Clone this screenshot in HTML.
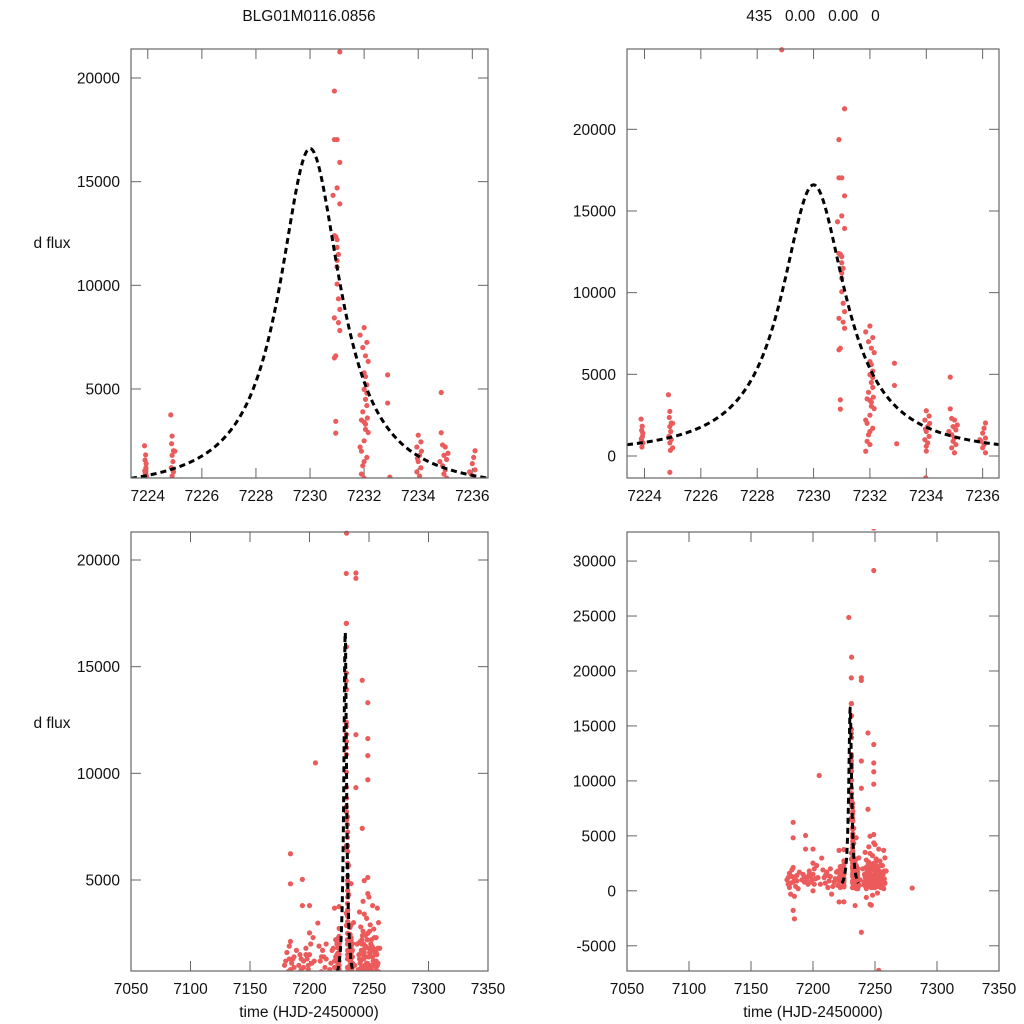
<!DOCTYPE html>
<html><head><meta charset="utf-8"><style>
html,body{margin:0;padding:0;background:#fff;overflow:hidden;width:1024px;height:1024px;}
svg{display:block;font-family:"Liberation Sans",Arial,sans-serif;}
</style></head><body>
<svg id="chart" width="1024" height="1024" viewBox="0 0 1024 1024">
<rect width="1024" height="1024" fill="#fff"/>
<text x="309" y="21" font-size="15.5" text-anchor="middle" fill="#111">BLG01M0116.0856</text>
<text x="813" y="21" font-size="15.5" text-anchor="middle" fill="#111" xml:space="preserve">435   0.00   0.00   0</text>
<text x="52" y="248" font-size="15.5" text-anchor="middle" fill="#111">d flux</text>
<text x="52" y="728" font-size="15.5" text-anchor="middle" fill="#111">d flux</text>
<text x="309" y="1017" font-size="15.5" text-anchor="middle" fill="#111">time (HJD-2450000)</text>
<text x="813" y="1017" font-size="15.5" text-anchor="middle" fill="#111">time (HJD-2450000)</text>
</svg>
<script>
// observed data (time, d flux)
const obsTime = [
7223.88,7223.92,7223.9,7223.93,7223.89,7223.95,7223.91,7223.94,7223.9,
7224.85,7224.9,7224.88,7224.95,7225.0,7224.9,7224.93,7224.87,7224.95,7224.9,7225.0,7224.92,7224.9,
7228.87,
7231.1,7230.9,7230.9,7231.0,7231.1,7231.0,7230.85,7231.1,7230.9,7230.95,7231.0,7231.0,7231.05,7231.0,7231.0,7231.0,7231.05,7231.1,7230.9,7231.05,7231.1,7230.9,7230.95,7230.95,7230.95,
7232.0,7231.85,7232.1,7231.95,7232.05,7232.15,7232.0,7232.05,7232.1,7232.0,7232.1,7232.05,7232.1,7231.95,7231.9,7232.0,7232.05,7232.15,7232.0,7231.85,7231.9,7232.1,7232.0,7231.95,7231.9,7232.0,7231.85,7232.05,7232.12,
7232.87,7232.87,7232.95,
7234.0,7234.1,7233.95,7234.05,7234.0,7234.1,7233.95,7234.05,7234.0,7234.0,7233.98,7234.12,7233.97,
7234.85,7234.85,7234.9,7235.0,7234.95,7235.05,7234.9,7235.0,7234.95,7235.05,7234.9,7235.0,7234.8,7235.1,
7236.1,7236.05,7236.0,7236.1,7235.95,7236.05,7236.0,7236.1,7235.9,
7184,7184,7184,7184,7185,7179,7180,7181,7182,7183,7184,7185,7186,7187,7188,7180,7182,7186,7185,
7194,7194,7192,7193,7195,7196,7198,7197,7200,7200,7201,7200,7199,7201,7200,7202,7203,
7205,7207,7209,7210,7211,7212,7213,7214,7215,7214,7216,7212,
7221,7220,7221,7222,7220,7222,7221,7222,7223,
7239,7239,7239,7239,7239,7244.3,7244.3,7246,7246,7249,7249,7249,7249,7249,7249,7249,7249,7253,7257,7258,7256,7259,7257,7280,
7237,7238,7237.5,7240,7241,
7242,7243,7244,7245,7246,7247,7248,7249,7250,7251,7252,7253,7254,7255,7256,7257,7243,7245,7247,7249,7251,7253,7255,7244,7246,7248,7250,7252,7254,7256,7258,7242,7250,7248,7252,7245,7243,7247,
7241.5,7242.5,7243.5,7244.5,7245.5,7246.5,7247.5,7248.5,7249.5,7250.5,7251.5,7252.5,7253.5,7254.5,7255.5,7256.5,7257.5,
7241.5,7242.5,7243.5,7244.5,7245.5,7246.5,7247.5,7248.5,7249.5,7250.5,7251.5,7252.5,7253.5,7254.5,7255.5,7256.5,7257.5,
7242,7244,7246,7248,7250,7252,7254,7256,7243,7247,7251,7255,
7181,7183,7187,7189,7191,7193,7195,7197,7199,7204,7206,7208,7210,7217,7218,7219,7223,7222,7221
];
const obsFlux = [
2260,1820,1570,1200,1060,800,550,1400,950,
3750,2730,2360,2020,2000,1800,1500,1200,1000,800,500,350,-1000,
24870,
21260,19370,17030,17030,15930,14700,14340,13930,12400,12350,12200,11830,11490,11200,10880,10060,9350,8840,8430,8200,7820,6500,6600,3440,2870,
7960,7600,7250,7000,6600,6330,5780,5600,5200,4980,4800,4500,4200,3900,3500,3400,3050,2900,2500,2200,2000,1700,1500,1300,900,700,290,3300,3600,
5680,4320,750,
2770,2450,2200,1800,1500,1200,1000,800,600,300,-1340,2000,1650,
4830,2890,2300,2200,1800,1600,1300,1100,900,700,500,200,1500,1900,
2020,1700,1400,1100,900,700,500,200,1000,
6230,4820,2120,-1780,-2550,1000,600,300,-300,1300,800,1100,400,900,200,1200,700,1300,-500,
5030,3800,1500,800,1200,600,1300,1800,3800,2520,2000,1500,1000,600,0,1100,2300,
10490,2980,1200,700,1700,1400,900,1300,-300,2000,400,300,
3680,1800,1200,900,500,2200,-1010,300,1500,
19390,19140,11810,9330,-3770,14360,7420,4970,-1230,33000,29140,13310,11630,10830,9700,5120,4360,-7240,3680,3000,2300,1800,1000,250,
3000,1000,500,2000,800,
3500,2800,2000,1500,800,300,3200,2500,1800,1000,400,3800,2700,1600,900,200,1200,2600,1900,700,2900,1400,500,400,3400,1100,300,2200,1000,1600,700,600,4200,-400,-200,4000,-600,-1300,
1500,2100,900,2400,1300,1800,600,2200,1400,2600,800,1900,1200,2300,700,1500,1100,
500,1100,1700,700,2000,1000,1400,300,900,1600,2000,600,1800,300,1200,400,1800,
1300,2200,1600,600,1400,800,1700,1200,200,2400,1600,1000,
1600,1900,1400,1700,1000,1300,900,1500,800,1200,600,1900,1400,800,1100,1700,2000,1400,900
];
// model parameters
const modelT0 = [7230.0];
const modelPeak = [16600];
const modelWidth = [1.38];
const modelRange = [7223.38, 7236.58];
// tick labels
const xTicksZoom = [7224,7226,7228,7230,7232,7234,7236];
const xTicksFull = [7050,7100,7150,7200,7250,7300,7350];
const yTicksTL = [5000,10000,15000,20000];
const yTicksTR = [0,5000,10000,15000,20000];
const yTicksBL = [5000,10000,15000,20000];
const yTicksBR = [-5000,0,5000,10000,15000,20000,25000,30000];

const NS = "http://www.w3.org/2000/svg";
const svg = document.getElementById('chart');
function mk(tag, attrs, parent){const e=document.createElementNS(NS,tag);for(const k in attrs)e.setAttribute(k,attrs[k]);(parent||svg).appendChild(e);return e;}
function model(t){const d=(t-modelT0[0])/modelWidth[0];return modelPeak[0]/(1+d*d);}

const panels = [
 {id:'top-left',x0:131,x1:488,y0:49,y1:478,xd:[7223.38,7236.58],yd:[706,21399],xt:xTicksZoom,yt:yTicksTL},
 {id:'top-right',x0:627,x1:999,y0:49,y1:478,xd:[7223.38,7236.58],yd:[-1347,24917],xt:xTicksZoom,yt:yTicksTR},
 {id:'bottom-left',x0:131,x1:488,y0:532,y1:971,xd:[7050,7350],yd:[734,21312],xt:xTicksFull,yt:yTicksBL},
 {id:'bottom-right',x0:627,x1:999,y0:532,y1:971,xd:[7050,7350],yd:[-7295,32644],xt:xTicksFull,yt:yTicksBR}
];
panels.forEach((p,i)=>{
 const sx=t=>p.x0+(t-p.xd[0])/(p.xd[1]-p.xd[0])*(p.x1-p.x0);
 const sy=v=>p.y1-(v-p.yd[0])/(p.yd[1]-p.yd[0])*(p.y1-p.y0);
 const g=mk('g',{});
 
 
 const cp=mk('clipPath',{id:'cp'+i},g);
 mk('rect',{x:p.x0,y:p.y0-3,width:p.x1-p.x0,height:p.y1-p.y0+3},cp);
 p.xt.forEach(t=>{
  const x=sx(t);
  const a=mk('line',{x1:x,x2:x,y1:p.y1,y2:p.y1-10,stroke:'#666','stroke-width':1},g);
  
  
  mk('line',{x1:x,x2:x,y1:p.y0,y2:p.y0+10,stroke:'#666','stroke-width':1},g);
  const l=mk('text',{x:x,y:p.y1+23,'font-size':15.5,'text-anchor':'middle',fill:'#111'},g);
  l.textContent=t;
  
  
 });
 p.yt.forEach(v=>{
  const y=sy(v);
  const a=mk('line',{x1:p.x0,x2:p.x0+10,y1:y,y2:y,stroke:'#666','stroke-width':1},g);
  
  
  mk('line',{x1:p.x1,x2:p.x1-10,y1:y,y2:y,stroke:'#666','stroke-width':1},g);
  const l=mk('text',{x:p.x0-11,y:y+5.5,'font-size':15.5,'text-anchor':'end',fill:'#111'},g);
  l.textContent=v;
  
  
 });
 const pg=mk('g',{'clip-path':'url(#cp'+i+')'},g);
 for(let k=0;k<obsTime.length;k++){
  const c=mk('circle',{cx:sx(obsTime[k]),cy:sy(obsFlux[k]),r:2.6,fill:'#ec5b5b'},pg);
  
  
 }
 let d='';
 const n=300;
 for(let k=0;k<=n;k++){
  const t=modelRange[0]+(modelRange[1]-modelRange[0])*k/n;
  d+=(k?'L':'M')+sx(t).toFixed(2)+' '+sy(model(t)).toFixed(2);
 }
 const m=mk('path',{d:d,fill:'none',stroke:'#000','stroke-width':3,'stroke-dasharray':'6 4'},pg);
 
 
 const b=mk('rect',{x:p.x0,y:p.y0,width:p.x1-p.x0,height:p.y1-p.y0,fill:'none',stroke:'#666','stroke-width':1.2},g);
 
 
});
</script>
</body></html>
